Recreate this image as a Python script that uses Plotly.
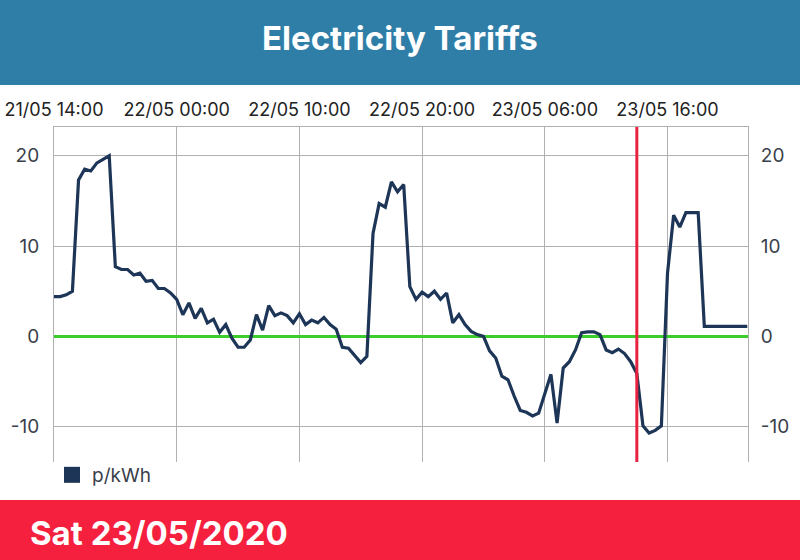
import pandas as pd
import plotly.graph_objects as go

# ---- data ----
START_TIME = "2020-05-21 14:00"
STEP_MIN = 30
prices = [4.4, 4.4, 4.6, 5.0, 17.3, 18.5, 18.3, 19.2, 19.6, 20.0,
          7.7, 7.4, 7.4, 6.8, 7.0, 6.1, 6.2, 5.3, 5.3, 4.8,
          4.1, 2.4, 3.7, 2.0, 3.1, 1.5, 1.9, 0.45, 1.3, -0.2,
          -1.2, -1.2, -0.4, 2.4, 0.7, 3.4, 2.3, 2.6, 2.3, 1.5,
          2.5, 1.3, 1.8, 1.5, 2.1, 1.3, 0.8, -1.2, -1.3, -2.1,
          -2.9, -2.2, 11.4, 14.7, 14.3, 17.1, 16.0, 16.8, 5.5, 4.1,
          4.9, 4.4, 5.0, 4.1, 4.8, 1.5, 2.4, 1.3, 0.55, 0.2,
          0.0, -1.6, -2.4, -4.4, -4.8, -6.6, -8.2, -8.4, -8.8, -8.5,
          -6.3, -4.2, -9.6, -3.5, -2.8, -1.5, 0.4, 0.5, 0.5, 0.2,
          -1.5, -1.8, -1.4, -1.9, -2.8, -4.1, -9.9, -10.7, -10.4, -9.9,
          7.0, 13.4, 12.1, 13.7, 13.7, 13.7, 1.1, 1.1, 1.1, 1.1,
          1.1, 1.1, 1.1, 1.1]
x_tick_times = ["2020-05-21 14:00", "2020-05-22 00:00", "2020-05-22 10:00",
                "2020-05-22 20:00", "2020-05-23 06:00", "2020-05-23 16:00"]
x_tick_labels = ["21/05 14:00", "22/05 00:00", "22/05 10:00",
                 "22/05 20:00", "23/05 06:00", "23/05 16:00"]
y_ticks = [-10, 0, 10, 20]
y_tick_labels = ["-10", "0", "10", "20"]
NOW_TIME = "2020-05-23 13:30"
X_RANGE = ["2020-05-21 14:00", "2020-05-23 22:33:36"]
Y_RANGE = [-13.9, 23.17]
TITLE = "Electricity Tariffs"
DATE_TEXT = "Sat 23/05/2020"
SERIES_NAME = "p/kWh"

times = pd.date_range(START_TIME, periods=len(prices), freq=f"{STEP_MIN}min")

NAVY = "#1d3557"
GRID = "#b0b0b0"
FONT = "Inter"

fig = go.Figure()
fig.add_trace(go.Scatter(x=times, y=prices, mode="lines",
                         line=dict(color=NAVY, width=3.2),
                         showlegend=False, hoverinfo="x+y"))
# legend entry (square swatch)
fig.add_trace(go.Scatter(x=[None], y=[None], mode="markers", name=SERIES_NAME,
                         marker=dict(symbol="square", size=16, color=NAVY),
                         showlegend=True))
# invisible trace for right axis
fig.add_trace(go.Scatter(x=[times[0]], y=[None], yaxis="y2", showlegend=False,
                         hoverinfo="skip"))

shapes = [
    # title bar
    dict(type="rect", xref="paper", yref="paper", x0=-0.2, x1=1.2,
         y0=(462 - 85) / 335, y1=1.5, fillcolor="#2f7ea7", line_width=0, layer="below"),
    # bottom bar
    dict(type="rect", xref="paper", yref="paper", x0=-0.2, x1=1.2,
         y0=-0.5, y1=(462 - 500) / 335, fillcolor="#f5203e", line_width=0, layer="below"),
    # now marker
    dict(type="line", xref="x", yref="paper", x0=NOW_TIME, x1=NOW_TIME, y0=0, y1=1,
         line=dict(color="#e8223f", width=3), layer="above"),
]

annotations = [
    dict(text=f"<b>{TITLE}</b>", xref="paper", yref="paper", x=(400 - 54) / 694,
         y=(462 - 38) / 335, xanchor="center", yanchor="middle", showarrow=False,
         font=dict(family=FONT, size=33, color="white")),
    dict(text=f"<b>{DATE_TEXT}</b>", xref="paper", yref="paper", x=(28 - 54) / 694,
         y=(462 - 533) / 335, xanchor="left", yanchor="middle", showarrow=False,
         font=dict(family=FONT, size=33, color="white")),
]

fig.update_layout(
    width=800, height=560,
    margin=dict(l=54, r=52, t=127, b=98, autoexpand=False),
    paper_bgcolor="white", plot_bgcolor="white",
    font=dict(family=FONT, color="#3a3f4b"),
    shapes=shapes, annotations=annotations,
    xaxis=dict(side="top", type="date", range=X_RANGE,
               tickvals=x_tick_times, ticktext=x_tick_labels,
               tickfont=dict(size=18, color="#222222"),
               showgrid=True, gridcolor=GRID, gridwidth=1,
               showline=True, linecolor=GRID, linewidth=1,
               ticks="outside", ticklen=3, tickcolor="rgba(0,0,0,0)",
               zeroline=False, fixedrange=True, automargin=False),
    yaxis=dict(range=Y_RANGE, tickvals=y_ticks, ticktext=y_tick_labels,
               tickfont=dict(size=19, color="#3a3f4b"),
               showgrid=True, gridcolor=GRID, gridwidth=1,
               showline=True, linecolor=GRID, linewidth=1,
               zeroline=True, zerolinecolor="#3ccc2c", zerolinewidth=3,
               ticks="outside", ticklen=10, tickcolor="rgba(0,0,0,0)",
               automargin=False),
    yaxis2=dict(range=Y_RANGE, tickvals=y_ticks, ticktext=y_tick_labels,
                overlaying="y", side="right",
                tickfont=dict(size=19, color="#3a3f4b"),
                showgrid=False, showline=True, linecolor=GRID, linewidth=1,
                zeroline=False, ticks="outside", ticklen=8, tickcolor="rgba(0,0,0,0)",
                automargin=False),
    legend=dict(x=-2 / 694, y=0.018, xanchor="left", yanchor="top",
                font=dict(family=FONT, size=19, color="#3a3f4b"),
                bgcolor="rgba(0,0,0,0)"),
    showlegend=True,
)

fig.write_html("out.html")
